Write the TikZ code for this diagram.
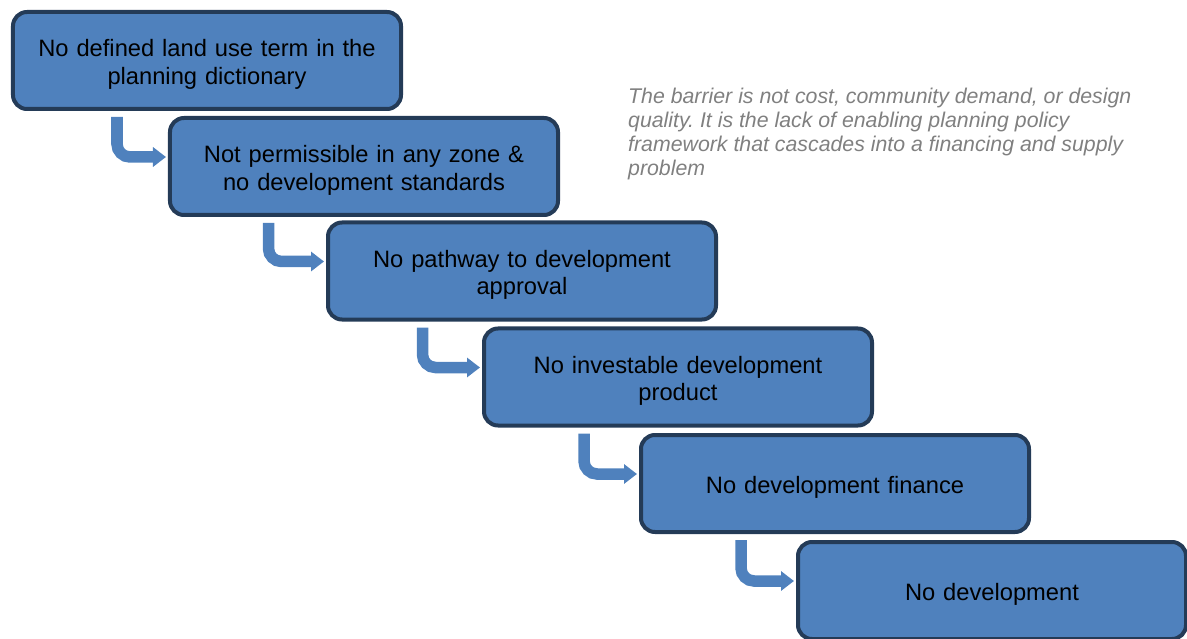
\documentclass[tikz,border=0pt]{standalone}
\usepackage{fontspec}
\setmainfont{Liberation Sans}
\frenchspacing
\usetikzlibrary{arrows.meta}
\definecolor{stepfill}{HTML}{4F81BD}
\definecolor{stepline}{HTML}{243B57}
\definecolor{notegray}{HTML}{808080}
\tikzset{
  stepbox/.style={draw=stepline, fill=stepfill, line width=4bp,
    rounded corners=14bp, minimum width=388bp, minimum height=97bp,
    inner sep=0pt, align=center, text width=370bp,
    font=\fontsize{23.7bp}{27.5bp}\selectfont,
    execute at begin node={\rule{0pt}{25bp}}},
  flowarrow/.style={draw=stepfill, line width=11.5bp, rounded corners=13bp,
    -{Triangle[length=13bp,width=19bp]}, shorten >=2bp},
  note/.style={anchor=north west, align=left, text=notegray, inner sep=0pt,
    font=\fontsize{21.3bp}{24bp}\selectfont\itshape}
}
\begin{document}
\begin{tikzpicture}[x=1bp, y=-1bp]
  \useasboundingbox (0,0) rectangle (1187,639);
  % cascade of steps, each one offset down and to the right
  \node[stepbox] (s1) at (207,60.5)  {No defined land use term in the\\planning dictionary};
  \node[stepbox] (s2) at (364,166.5) {Not permissible in any zone \&\\no development standards};
  \node[stepbox] (s3) at (522,271)   {No pathway to development\\approval};
  \node[stepbox] (s4) at (678,377)   {No investable development\\product};
  \node[stepbox] (s5) at (835,483.5) {No development finance};
  \node[stepbox] (s6) at (992,590.5) {No development};
  % bent arrows from each step into the next
  \foreach \a/\b/\off in {s1/s2/106, s2/s3/100.5, s3/s4/96.5, s4/s5/102, s5/s6/102}{
    \draw[flowarrow] ([xshift=\off bp,yshift=-6bp]\a.south west)
      |- ([yshift=-41bp]\b.north west);
  }
  % side note
  \node[note] (note) at (628,88) {The barrier is not cost, community demand, or design\\
    quality. It is the lack of enabling planning policy\\
    framework that cascades into a financing and supply\\
    problem};
\end{tikzpicture}
\end{document}
